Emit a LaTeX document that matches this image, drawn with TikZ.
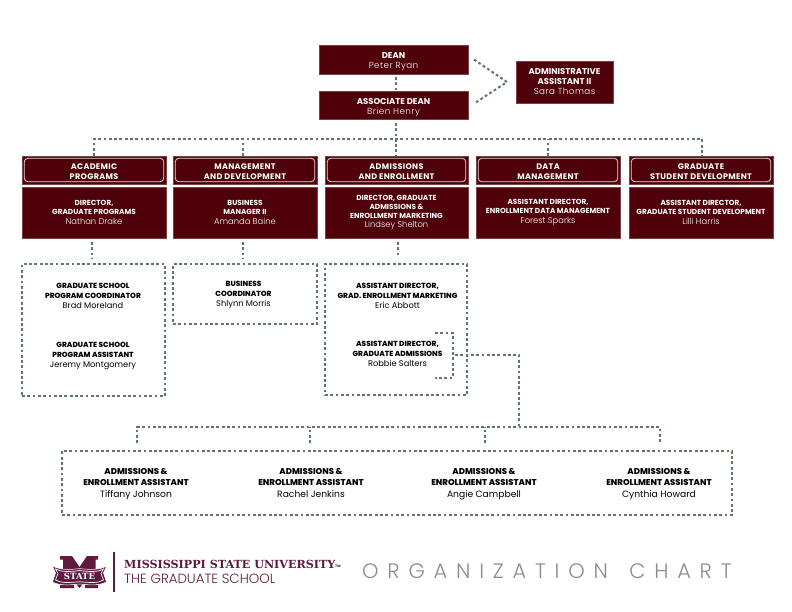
\documentclass[tikz,border=0pt]{standalone}
\usepackage{fontspec}
\setmainfont{Poppins}
\newfontfamily\namef{Poppins Light}
\newfontfamily\blackf{Poppins ExtraBold}
\newfontfamily\slabf{DejaVu Serif}[BoldFont={DejaVu Serif Bold}]
\newfontfamily\orgf{Poppins Light}[LetterSpace=42]
\definecolor{msu}{HTML}{4F0008}
\definecolor{dots}{HTML}{5F7A62}
\definecolor{logo}{HTML}{5E1A3F}
\newcommand{\nm}[1]{{\fontsize{8.4}{8.4}\selectfont\namef\mdseries #1}}
\newcommand{\nmb}[1]{{\fontsize{8.8}{8.8}\selectfont\namef\mdseries\addfontfeature{LetterSpace=5} #1}}
\newcommand{\nmw}[1]{{\fontsize{8.3}{8.3}\selectfont\rmfamily\mdseries #1}}
\newcommand{\nmc}[1]{{\fontsize{9.2}{9.2}\selectfont\rmfamily\mdseries #1}}
\newcommand{\vpad}[1]{\rule{0pt}{#1bp}}
\tikzset{
  x=1bp,y=-1bp,
  box/.style={fill=msu,draw=msu!75!white,line width=.4pt,inner sep=0pt,outer sep=0pt,text=white,align=center,anchor=north west},
  ghost/.style={inner sep=0pt,outer sep=0pt,anchor=north west},
  dotline/.style={draw=dots,line width=2pt,dash pattern=on 2.8bp off 2.5bp},
  tag/.style={inner sep=0pt,align=center,text=black,anchor=north},
  top/.style={font=\fontsize{8.5}{9.8}\selectfont\bfseries},
  hd/.style={font=\fontsize{8.1}{10}\selectfont\bfseries\addfontfeature{LetterSpace=4}},
  dir/.style={font=\fontsize{7.35}{9.3}\selectfont\bfseries},
  dirc/.style={font=\fontsize{7.35}{8.8}\selectfont\bfseries},
  blk/.style={font=\fontsize{7.4}{9.6}\blackf\selectfont},
  blkc/.style={font=\fontsize{8.5}{11.5}\blackf\selectfont},
}
\begin{document}
\begin{tikzpicture}
\useasboundingbox (0,0) rectangle (792,612);
\fill[white] (0,0) rectangle (792,612);

% top boxes
\node[box,top,minimum width=149bp,minimum height=29bp] (dean) at (319,45) {\vpad{10}DEAN\\[.5pt]\nmb{Peter Ryan}};
\node[box,top,minimum width=149bp,minimum height=28bp] (assoc) at (319,91.5) {\vpad{10}ASSOCIATE DEAN\\[.5pt]\nmb{Brien Henry}};
\node[box,top,minimum width=97bp,minimum height=42bp] (admin) at (516,61) {ADMINISTRATIVE\\ASSISTANT II\\[.5pt]\nmb{Sara Thomas}};

% headers and director boxes
\foreach \nme/\xx/\bw/\la/\lb in {
  a/22/144/ACADEMIC/PROGRAMS,
  b/173/144/MANAGEMENT/AND DEVELOPMENT,
  c/325/143/ADMISSIONS/AND ENROLLMENT,
  d/476/144/DATA/MANAGEMENT,
  e/629/144/GRADUATE/STUDENT DEVELOPMENT}{
  \node[box,hd,minimum width=\bw bp,minimum height=28bp] (hd\nme) at (\xx,156) {\vpad{9.8}\la\\\lb};
  \draw[white!85!msu,line width=.8pt,rounded corners=3.5bp] ([xshift=2.3bp,yshift=-2.3bp]hd\nme.north west) rectangle ([xshift=-2.3bp,yshift=2.3bp]hd\nme.south east);
}
\node[box,dir,minimum width=144bp,minimum height=51bp] (da) at (22,187) {DIRECTOR,\\GRADUATE PROGRAMS\\[.5pt]\nm{Nathan Drake}};
\node[box,dir,minimum width=144bp,minimum height=51bp] (db) at (173,187) {BUSINESS\\MANAGER II\\[.5pt]\nm{Amanda Baine}};
\node[box,dirc,minimum width=143bp,minimum height=51bp] (dc) at (325,187) {DIRECTOR, GRADUATE\\ADMISSIONS \&\\ENROLLMENT MARKETING\\[.5pt]\nm{Lindsey Shelton}};
\node[box,dir,minimum width=144bp,minimum height=51bp] (dd) at (476,187) {ASSISTANT DIRECTOR,\\ENROLLMENT DATA MANAGEMENT\\[.5pt]\nm{Forest Sparks}};
\node[box,dir,minimum width=144bp,minimum height=51bp] (de) at (629,187) {ASSISTANT DIRECTOR,\\GRADUATE STUDENT DEVELOPMENT\\[.5pt]\nm{Lilli Harris}};

% dotted boxes
\node[ghost,dotline,minimum width=143bp,minimum height=132bp] (ga) at (22,264) {};
\node[ghost,dotline,minimum width=144bp,minimum height=60bp] (gb) at (173,264) {};
\node[ghost,dotline,minimum width=142bp,minimum height=131bp] (gc) at (325,264) {};
\node[ghost,dotline,minimum width=670bp,minimum height=64bp] (gd) at (62,451) {};

% people
\node[tag,blk] (t1) at (93,283) {GRADUATE SCHOOL\\PROGRAM COORDINATOR\\[1pt]\nmw{Brad Moreland}};
\node[tag,blk] (t2) at (93,342) {GRADUATE SCHOOL\\PROGRAM ASSISTANT\\[1pt]\nmw{Jeremy Montgomery}};
\node[tag,blk] (t3) at (243.5,281) {BUSINESS\\COORDINATOR\\[1pt]\nmw{Shlynn Morris}};
\node[tag,blk] (t4) at (397.5,283) {ASSISTANT DIRECTOR,\\GRAD. ENROLLMENT MARKETING\\[1pt]\nmw{Eric Abbott}};
\node[tag,blk] (t5) at (397.5,341) {ASSISTANT DIRECTOR,\\GRADUATE ADMISSIONS\\[1pt]\nmw{Robbie Salters}};
\foreach \nme/\xx/\who in {u/136/Tiffany Johnson,v/311/Rachel Jenkins,w/484/Angie Campbell,z/659/Cynthia Howard}{
  \node[tag,blkc] (p\nme) at (\xx,468) {ADMISSIONS \&\\ENROLLMENT ASSISTANT\\[.5pt]\nmc{\who}};
}

% connectors
\coordinate (busL) at (94,139);
\coordinate (busB) at (243,139);
\coordinate (busD) at (396,139);
\coordinate (busE) at (548,139);
\coordinate (busR) at (702,139);
\coordinate (chev) at (507,82);
\coordinate (stubDm) at (396,77);
\coordinate (stubDa) at (396,90);
\coordinate (stubAs) at (396,123);
\coordinate (sa1) at (92,242);
\coordinate (sa2) at (92,258);
\coordinate (sb1) at (243,242);
\coordinate (sb2) at (243,258);
\coordinate (sc1) at (398,242);
\coordinate (sc2) at (398,256);
\draw[dotline] (stubDm) -- (stubDa);
\draw[dotline] (stubAs) -- (busD) -- (busD |- hdc.north);
\draw[dotline] ([xshift=6bp]dean.east) -- (chev) -- ([xshift=7bp,yshift=2.5bp]assoc.east);
\draw[dotline] (busL |- hda.north) -- (busL) -- (busR) -- (busR |- hde.north);
\draw[dotline] (busB |- hdb.north) -- (busB);
\draw[dotline] (busE |- hdd.north) -- (busE);
\draw[dotline] (sa1) -- (sa2);
\draw[dotline] (sb1) -- (sb2);
\draw[dotline] (sc1) -- (sc2);
\coordinate (brT) at (453,333);
\coordinate (brB) at (453,378);
\coordinate (brM) at (455,355);
\coordinate (brTe) at (435,333);
\coordinate (brBe) at (435,378);
\coordinate (lnk) at (519,355);
\coordinate (sub) at (519,427);
\coordinate (subL) at (137,427);
\coordinate (subA) at (310,427);
\coordinate (subB) at (485,427);
\coordinate (subR) at (660,427);
\coordinate (endL) at (137,443);
\coordinate (endA) at (310,443);
\coordinate (endB) at (485,443);
\coordinate (endR) at (660,443);
\draw[dotline] (brTe) -- (brT) -- (brB) -- (brBe);
\draw[dotline] (brM) -- (lnk) -- (sub);
\draw[dotline] (endL) -- (subL) -- (subR) -- (endR);
\draw[dotline] (endA) -- (subA);
\draw[dotline] (endB) -- (subB);

% logo
\fill[logo] (60,556) -- (72,556) -- (79.5,567) -- (87,556) -- (98,556) -- (98,559.5) -- (95.5,559.5) -- (95.5,584.5) -- (98,584.5) -- (98,588) -- (85,588) -- (85,584.5) -- (87,584.5) -- (87,579) -- (79.5,588) -- (72,579) -- (72,584.5) -- (74,584.5) -- (74,588) -- (60,588) -- (60,584.5) -- (63,584.5) -- (63,559.5) -- (60,559.5) -- cycle;
\fill[logo,draw=white,line width=.5pt] (52.5,566) .. controls (60,570) and (70,570) .. (79.5,568.5) .. controls (90,570) and (100,570) .. (106.5,566) -- (103.5,573) -- (106.5,582) .. controls (98,586) and (90,585) .. (79.5,584) .. controls (70,585) and (60,586) .. (52.5,582) -- (55.5,573) -- cycle;
\draw[white,line width=.7pt] (55.5,569) .. controls (61,572) and (70,572) .. (79.5,570.5) .. controls (90,572) and (99,572) .. (103.5,569) -- (101,573.5) -- (103.5,580) .. controls (98,583.5) and (90,582.5) .. (79.5,581.8) .. controls (70,582.5) and (61,583.5) .. (55.5,580) -- (58,573.5) -- cycle;
\node[inner sep=0pt,text=white] (logotxt) at (79.5,576) {\fontsize{8.6}{8.6}\selectfont\slabf\bfseries STATE};
\draw[logo,line width=1.1pt] (114,552) -- (114,592);
\node[inner sep=0pt,anchor=west,text=logo] (uni) at (124,564) {\fontsize{11.2}{11.2}\selectfont\slabf\bfseries MISSISSIPPI STATE UNIVERSITY};
\node[inner sep=0pt,anchor=west,text=logo] (tm) at (335,566) {\fontsize{3.5}{4}\selectfont\bfseries TM};
\node[inner sep=0pt,anchor=west,text=logo] (school) at (124,578.5) {\fontsize{13.4}{14}\selectfont\namef THE GRADUATE SCHOOL};
\node[inner sep=0pt,anchor=west,text=black!45] (org) at (362,571) {\fontsize{21}{22}\selectfont\orgf ORGANIZATION\hspace{7pt} CHART};
\end{tikzpicture}
\end{document}
